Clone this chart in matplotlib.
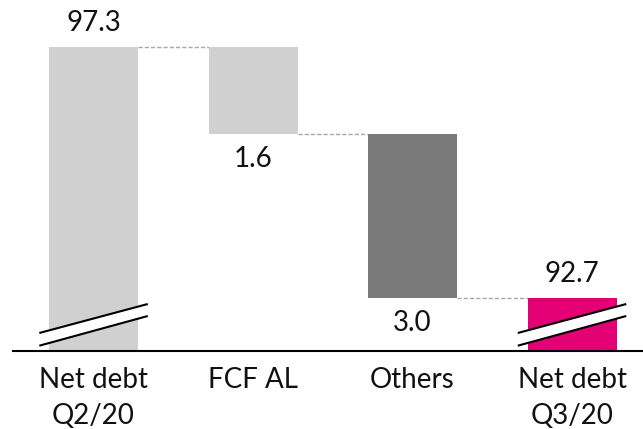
import matplotlib
matplotlib.use("Agg")
import matplotlib.pyplot as plt
import numpy as np

categories = ["Net debt\nQ2/20", "FCF AL", "Others", "Net debt\nQ3/20"]
start_value = 97.3
changes = [-1.6, -3.0]
end_value = 92.7
value_labels = ["97.3", "1.6", "3.0", "92.7"]
colors = ["#d0d0d0", "#d0d0d0", "#7a7a7a", "#e20074"]

plt.rcParams['font.family'] = ['Lato', 'DejaVu Sans']

fig = plt.figure(figsize=(6.43, 4.29), dpi=100)
ax = fig.add_axes([13/643, 1 - 350.5/429, 1 - 13/643, 350.5/429])

y_min = 91.744
y_max = 98.16
ax.set_ylim(y_min, y_max)
ax.set_xlim(-0.505, 3.445)

x = np.arange(len(categories))
width = 0.558

# compute waterfall
tops = []
bottoms = []
tops.append(start_value); bottoms.append(y_min)
level = start_value
for c in changes:
    new = level + c
    tops.append(max(level, new)); bottoms.append(min(level, new))
    level = new
tops.append(end_value); bottoms.append(y_min)

for i in range(len(categories)):
    ax.bar(x[i], tops[i] - bottoms[i], bottom=bottoms[i], width=width,
           color=colors[i], edgecolor='none', zorder=2)

# connectors
levels = [start_value]
lv = start_value
for c in changes:
    lv += c
    levels.append(lv)
for i in range(3):
    ax.plot([x[i] + width/2, x[i+1] - width/2], [levels[i], levels[i]],
            color='#a8a8a8', lw=1.0, ls=(0, (3, 1.5)), zorder=1)

# value labels
ann_pos = [(tops[0], 1), (bottoms[1], -1), (bottoms[2], -1), (tops[3], 1)]
for i, (yv, d) in enumerate(ann_pos):
    ax.annotate(value_labels[i], (x[i], yv), xytext=(0, d * 17.6),
                textcoords='offset points', ha='center', va='center',
                fontsize=20, color='#111111')

# break marks
ppu = 350.5 / (y_max - y_min)  # pixels per unit
def py(p):  # pixel from top -> data
    return y_min + (350.5 - p) / ppu
for i in [0, 3]:
    xl = x[i] - 0.34
    xr = x[i] + 0.34
    ylo = (py(345.7), py(316.0))
    yup = (py(333.0), py(304.0))
    ax.fill([xl, xr, xr, xl], [ylo[0], ylo[1], yup[1], yup[0]],
            color='white', zorder=3, lw=0)
    ax.plot([xl, xr], ylo, color='black', lw=1.5, zorder=4, solid_capstyle='butt')
    ax.plot([xl, xr], yup, color='black', lw=1.5, zorder=4, solid_capstyle='butt')

for s in ['top', 'right', 'left']:
    ax.spines[s].set_visible(False)
ax.spines['bottom'].set_linewidth(1.5)
ax.spines['bottom'].set_zorder(5)
ax.set_yticks([])
ax.set_xticks(x)
ax.set_xticklabels(categories, fontsize=20, color='#111111', linespacing=1.45)
ax.tick_params(axis='x', length=0, pad=12)

fig.savefig("out.png", dpi=100)
